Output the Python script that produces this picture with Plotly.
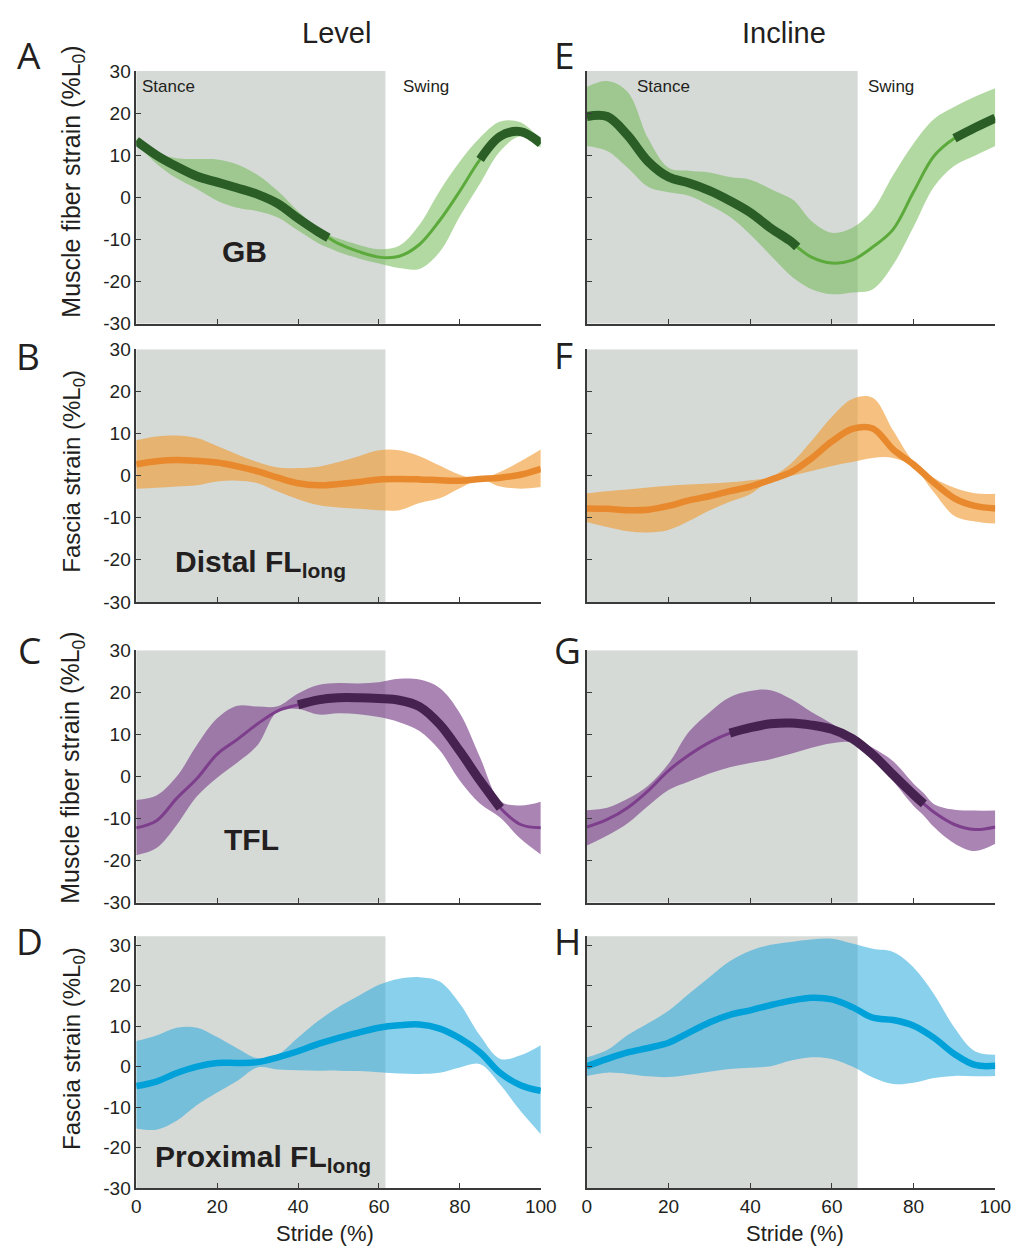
import plotly.graph_objects as go

W, H = 1025, 1258

# ---------------- data: stride (%) vs strain (%L0) ----------------
# A  GB, level
gb_lvl_x = [0, 5, 10, 15, 20, 25, 30, 35, 40, 45, 47.5, 50, 55, 60, 65, 70, 75, 80, 85, 90, 95, 100]
gb_lvl_mean = [13.4, 10.0, 7.3, 5.0, 3.6, 2.2, 0.7, -1.5, -5.0, -8.2, -9.6, -11.0, -12.9, -14.2, -14.0, -11.2, -5.5, 1.5, 9.0, 14.5, 15.6, 12.8]
gb_lvl_up = [14.0, 10.6, 9.3, 9.1, 9.0, 7.8, 5.3, 1.5, -3.3, -7.3, -8.8, -9.8, -11.3, -12.3, -11.5, -6.5, 1.5, 8.5, 14.2, 18.0, 17.8, 13.6]
gb_lvl_lo = [12.8, 8.0, 4.5, 2.0, -0.8, -2.5, -3.3, -4.8, -7.9, -10.9, -12.0, -13.0, -14.5, -15.7, -16.8, -17.0, -13.0, -4.5, 3.3, 11.0, 14.5, 11.8]
gb_lvl_active = [(0, 47.5), (85, 100)]

# E  GB, incline
gb_inc_x = [0, 5, 10, 15, 20, 25, 30, 35, 40, 45, 50, 51.5, 55, 60, 65, 70, 75, 80, 85, 90, 95, 100]
gb_inc_mean = [19.2, 19.2, 14.7, 8.5, 4.8, 3.4, 1.6, -0.8, -3.6, -7.3, -10.5, -11.8, -14.2, -15.6, -14.9, -11.8, -7.6, 1.3, 9.8, 14.0, 16.5, 18.8]
gb_inc_up = [26.2, 27.6, 25.0, 14.0, 7.0, 6.3, 5.9, 4.8, 4.2, 2.0, -0.3, -1.5, -5.6, -8.4, -7.2, -3.0, 5.3, 12.8, 18.6, 21.5, 23.9, 25.9]
gb_inc_lo = [12.2, 11.0, 7.0, 2.5, 1.2, 0.4, -1.9, -4.6, -8.8, -13.8, -18.7, -19.8, -21.8, -23.0, -22.6, -21.8, -16.0, -7.0, 2.5, 7.5, 9.9, 12.2]
gb_inc_active = [(0, 51.5), (90, 100)]

# B  distal FL long, level
dfl_lvl_x = [0, 5, 10, 15, 20, 25, 30, 35, 40, 45, 50, 55, 60, 65, 70, 75, 80, 85, 90, 95, 100]
dfl_lvl_mean = [2.7, 3.4, 3.7, 3.5, 3.1, 2.2, 1.0, -0.5, -1.8, -2.3, -2.0, -1.5, -0.9, -0.8, -0.9, -1.1, -1.2, -0.8, -0.5, 0.2, 1.6]
dfl_lvl_up = [8.4, 9.3, 9.5, 8.9, 7.0, 5.0, 3.2, 1.9, 1.8, 2.1, 3.2, 4.6, 6.0, 6.0, 4.6, 2.4, 0.2, -0.7, 0.9, 3.4, 6.2]
dfl_lvl_lo = [-3.1, -2.9, -2.6, -2.3, -1.4, -1.2, -1.8, -3.8, -5.6, -7.0, -7.6, -7.9, -8.2, -8.2, -6.5, -5.4, -3.0, -0.9, -2.6, -3.1, -2.7]

# F  distal FL long, incline
dfl_inc_x = [0, 5, 10, 15, 20, 25, 30, 35, 40, 45, 50, 55, 60, 65, 70, 75, 80, 85, 90, 95, 100]
dfl_inc_mean = [-7.8, -7.9, -8.2, -8.1, -7.2, -5.9, -4.9, -3.7, -2.6, -1.0, 0.8, 4.1, 8.1, 11.1, 11.2, 6.2, 2.6, -1.7, -5.4, -7.2, -7.8]
dfl_inc_up = [-4.2, -3.7, -3.3, -2.8, -2.4, -2.1, -1.9, -1.6, -1.1, -0.3, 2.9, 8.2, 14.0, 18.2, 18.5, 10.7, 3.3, -0.6, -2.9, -4.2, -4.3]
dfl_inc_lo = [-11.0, -12.2, -13.2, -13.5, -12.9, -10.8, -8.3, -6.2, -4.4, -1.2, -0.1, 1.1, 2.3, 3.2, 4.2, 4.2, 2.0, -4.0, -9.6, -10.9, -11.4]

# C  TFL, level
tfl_lvl_x = [0, 5, 10, 15, 20, 25, 30, 35, 40, 45, 50, 55, 60, 65, 70, 75, 80, 85, 90, 95, 100]
tfl_lvl_mean = [-12.2, -10.5, -5.2, -0.5, 5.3, 8.8, 12.5, 15.6, 17.0, 18.2, 18.7, 18.7, 18.5, 18.1, 16.6, 12.4, 6.0, -1.0, -7.5, -11.4, -12.2]
tfl_lvl_up = [-5.6, -4.5, 0.0, 7.5, 13.8, 16.8, 16.6, 16.7, 19.7, 21.7, 22.2, 22.1, 22.4, 23.2, 23.0, 21.0, 15.0, 4.5, -5.8, -6.9, -6.0]
tfl_lvl_lo = [-18.7, -17.0, -11.5, -4.7, -0.3, 3.3, 7.5, 15.5, 16.0, 14.7, 15.0, 14.8, 14.1, 12.9, 10.8, 6.2, -1.0, -6.5, -9.8, -14.8, -18.5]
tfl_lvl_active = [(40, 90)]

# G  TFL, incline
tfl_inc_x = [0, 5, 10, 15, 20, 25, 30, 35, 40, 45, 50, 55, 60, 65, 70, 75, 80, 82.5, 85, 90, 95, 100]
tfl_inc_mean = [-12.0, -10.2, -7.4, -3.4, 1.4, 5.1, 8.1, 10.3, 11.6, 12.5, 12.7, 12.2, 11.2, 9.0, 5.2, 0.4, -4.3, -6.5, -8.5, -11.4, -12.6, -12.0]
tfl_inc_up = [-8.0, -7.4, -5.3, -2.2, 3.0, 10.6, 15.2, 18.8, 20.3, 20.5, 18.4, 15.3, 12.5, 9.2, 6.8, 3.6, -1.7, -4.0, -6.6, -7.9, -8.1, -8.1]
tfl_inc_lo = [-16.4, -14.0, -11.1, -7.0, -3.2, -1.2, 0.7, 2.2, 3.2, 4.1, 5.4, 6.8, 7.9, 8.0, 4.5, -1.1, -7.0, -9.3, -12.0, -15.9, -17.7, -16.0]
tfl_inc_active = [(35, 82.5)]

# D  proximal FL long, level
pfl_lvl_x = [0, 5, 10, 15, 20, 25, 30, 35, 40, 45, 50, 55, 60, 65, 70, 75, 80, 85, 90, 95, 100]
pfl_lvl_mean = [-4.8, -3.7, -1.6, 0.0, 0.9, 0.9, 1.1, 2.3, 3.8, 5.6, 7.1, 8.4, 9.6, 10.2, 10.4, 9.4, 7.0, 3.5, -1.6, -4.6, -6.0]
pfl_lvl_up = [6.3, 7.7, 9.6, 9.6, 7.3, 4.5, 2.1, 3.0, 7.2, 11.3, 14.7, 17.5, 20.2, 21.7, 22.1, 21.0, 15.5, 7.6, 1.9, 2.8, 5.3]
pfl_lvl_lo = [-15.3, -15.6, -13.4, -9.5, -6.4, -3.5, -0.2, -0.7, -0.9, -1.0, -1.0, -1.1, -1.4, -1.7, -1.8, -1.5, -0.2, 0.6, -4.5, -11.0, -16.7]

# H  proximal FL long, incline
pfl_inc_x = [0, 5, 10, 15, 20, 25, 30, 35, 40, 45, 50, 55, 60, 65, 70, 75, 80, 85, 90, 95, 100]
pfl_inc_mean = [0.1, 1.9, 3.5, 4.6, 5.9, 8.4, 10.9, 12.8, 13.9, 15.2, 16.3, 17.0, 16.6, 14.7, 12.1, 11.5, 10.1, 7.1, 3.1, 0.4, 0.2]
pfl_inc_up = [2.3, 4.1, 7.8, 10.7, 13.8, 18.0, 22.1, 26.0, 28.6, 30.1, 30.8, 31.4, 31.6, 30.4, 29.1, 28.3, 24.5, 17.9, 9.6, 3.8, 2.9]
pfl_inc_lo = [-2.3, -1.5, -1.8, -2.4, -2.6, -2.0, -1.3, -0.6, -0.3, 0.1, 1.5, 2.3, 1.9, 0.0, -2.7, -4.3, -4.0, -2.8, -2.3, -2.4, -2.3]

# stance phase end (% stride)
stance_end_level = 61.6
stance_end_incline = 66.3

# axis ticks
y_tick_vals = [-30, -20, -10, 0, 10, 20, 30]
y_tick_text = ["-30", "-20", "-10", "0", "10", "20", "30"]
x_tick_vals = [0, 20, 40, 60, 80, 100]
x_tick_text = ["0", "20", "40", "60", "80", "100"]

# ---------------- styling ----------------
SHADE = "rgb(213,218,215)"
AXIS = "#3a3a3a"
TXT = "#231f20"
FONT = "Liberation Sans, Arial, sans-serif"

GREEN = dict(band="rgba(115,185,85,0.55)", thin="rgb(92,170,60)", thick="rgb(42,94,38)")
ORANGE = dict(band="rgba(240,155,50,0.62)", line="rgb(232,137,45)")
PURPLE = dict(band="rgba(130,75,145,0.68)", thin="rgb(125,62,140)", thick="rgb(70,34,80)")
BLUE = dict(band="rgba(40,170,220,0.55)", line="rgb(0,161,216)")

# pixel boxes of the panels: (left, right), (top, bottom)
COLS = [(134, 547), (594, 1011)]
ROWS = [(62, 319), (345, 602), (651, 908), (942, 1198)]


def px(x):
    return x / W


def py(y):
    return 1 - y / H


fig = go.Figure()

panels = [
    # (row, col, x, mean, up, lo, colour set, active ranges, y top)
    (0, 0, gb_lvl_x, gb_lvl_mean, gb_lvl_up, gb_lvl_lo, GREEN, gb_lvl_active, 30),
    (1, 0, dfl_lvl_x, dfl_lvl_mean, dfl_lvl_up, dfl_lvl_lo, ORANGE, None, 30),
    (2, 0, tfl_lvl_x, tfl_lvl_mean, tfl_lvl_up, tfl_lvl_lo, PURPLE, tfl_lvl_active, 30),
    (3, 0, pfl_lvl_x, pfl_lvl_mean, pfl_lvl_up, pfl_lvl_lo, BLUE, None, 32.2),
    (0, 1, gb_inc_x, gb_inc_mean, gb_inc_up, gb_inc_lo, GREEN, gb_inc_active, 30),
    (1, 1, dfl_inc_x, dfl_inc_mean, dfl_inc_up, dfl_inc_lo, ORANGE, None, 30),
    (2, 1, tfl_inc_x, tfl_inc_mean, tfl_inc_up, tfl_inc_lo, PURPLE, tfl_inc_active, 30),
    (3, 1, pfl_inc_x, pfl_inc_mean, pfl_inc_up, pfl_inc_lo, BLUE, None, 32.2),
]

shapes = []
layout_axes = {}
for i, (r, c, xs, mean, up, lo, col, active, ytop) in enumerate(panels, start=1):
    xa, ya = f"x{i}", f"y{i}"
    xkey = "xaxis" if i == 1 else f"xaxis{i}"
    ykey = "yaxis" if i == 1 else f"yaxis{i}"
    (l, rgt), (t, b) = COLS[c], ROWS[r]
    bottom_row = r == 3
    layout_axes[xkey] = dict(
        domain=[px(l), px(rgt)], anchor=ya, range=[0, 100],
        showline=True, linecolor=AXIS, linewidth=1.5, mirror=False,
        ticks="inside", ticklen=5, tickwidth=1.2, tickcolor=AXIS,
        tickvals=x_tick_vals, ticktext=x_tick_text,
        showticklabels=bottom_row, showgrid=False, zeroline=False,
        tickfont=dict(family=FONT, size=19, color=TXT),
    )
    layout_axes[ykey] = dict(
        domain=[py(b), py(t)], anchor=xa, range=[-30, ytop],
        showline=True, linecolor=AXIS, linewidth=1.5,
        ticks="inside", ticklen=5, tickwidth=1.2, tickcolor=AXIS,
        tickvals=y_tick_vals, ticktext=y_tick_text,
        showticklabels=(c == 0), showgrid=False, zeroline=False,
        tickfont=dict(family=FONT, size=19, color=TXT),
    )
    stance_end = stance_end_level if c == 0 else stance_end_incline
    shapes.append(dict(type="rect", xref=xa, yref=ya, x0=0, x1=stance_end,
                       y0=-30, y1=ytop + (0.1 if ytop > 30 else 0),
                       fillcolor=SHADE, line=dict(width=0), layer="below"))

    # variability band
    fig.add_trace(go.Scatter(x=xs, y=lo, xaxis=xa, yaxis=ya, mode="lines",
                             line=dict(width=0, shape="spline", smoothing=1.0),
                             hoverinfo="skip", showlegend=False))
    fig.add_trace(go.Scatter(x=xs, y=up, xaxis=xa, yaxis=ya, mode="lines",
                             line=dict(width=0, shape="spline", smoothing=1.0),
                             fill="tonexty", fillcolor=col["band"],
                             hoverinfo="skip", showlegend=False))
    if active is None:
        fig.add_trace(go.Scatter(x=xs, y=mean, xaxis=xa, yaxis=ya, mode="lines",
                                 line=dict(width=6.5, color=col["line"], shape="spline", smoothing=1.0),
                                 showlegend=False))
    else:
        fig.add_trace(go.Scatter(x=xs, y=mean, xaxis=xa, yaxis=ya, mode="lines",
                                 line=dict(width=3, color=col["thin"], shape="spline", smoothing=1.0),
                                 showlegend=False))
        for a0, a1 in active:
            seg = [k for k, xv in enumerate(xs) if a0 <= xv <= a1]
            fig.add_trace(go.Scatter(x=[xs[k] for k in seg], y=[mean[k] for k in seg],
                                     xaxis=xa, yaxis=ya, mode="lines",
                                     line=dict(width=9, color=col["thick"], shape="spline", smoothing=1.0),
                                     showlegend=False))

ann = []


def text(x, y, s, size, bold=False, xanchor="center", yanchor="middle", angle=0, family=FONT):
    if bold:
        s = f"<b>{s}</b>"
    ann.append(dict(x=px(x), y=py(y), xref="paper", yref="paper", text=s, showarrow=False,
                    xanchor=xanchor, yanchor=yanchor, textangle=angle,
                    font=dict(family=family, size=size, color=TXT)))


# column titles
text(338, 23, "Level", 29)
text(795, 23, "Incline", 29)

# panel letters
LET = "Open Sans, Liberation Sans, sans-serif"
for s, x, y in [("A", 25, 45), ("B", 23, 351), ("C", 25, 650), ("D", 25, 946),
                ("E", 571, 45), ("F", 570, 350), ("G", 574, 650), ("H", 574, 946)]:
    text(x, y, s, 37, family=LET)

# y-axis titles
ylab_m = "Muscle fiber strain (%L<sub>0</sub>)"
ylab_f = "Fascia strain (%L<sub>0</sub>)"
text(69, 175, ylab_m, 25, angle=-90)
text(70, 469, ylab_f, 24, angle=-90)
text(69, 771, ylab_m, 25, angle=-90)
text(70, 1056, ylab_f, 24, angle=-90)

# phase labels
text(138, 78, "Stance", 17, xanchor="left")
text(643, 78, "Stance", 17, xanchor="left")
text(404, 78, "Swing", 17, xanchor="left")
text(879, 78, "Swing", 17, xanchor="left")

# muscle labels
text(245, 246, "GB", 30, bold=True)
text(172, 563, "<b>Distal FL</b><sub><b>long</b></sub>", 30, xanchor="left")
text(252, 844, "TFL", 30, bold=True)
text(151, 1168, "<b>Proximal FL</b><sub><b>long</b></sub>", 30, xanchor="left")

# x-axis titles
text(327, 1244, "Stride (%)", 22)
text(807, 1244, "Stride (%)", 22)

fig.update_layout(
    width=W, height=H, margin=dict(l=0, r=0, t=0, b=0),
    paper_bgcolor="white", plot_bgcolor="rgba(0,0,0,0)",
    shapes=shapes, annotations=ann, showlegend=False,
    **layout_axes,
)

fig.write_html("out.html")
